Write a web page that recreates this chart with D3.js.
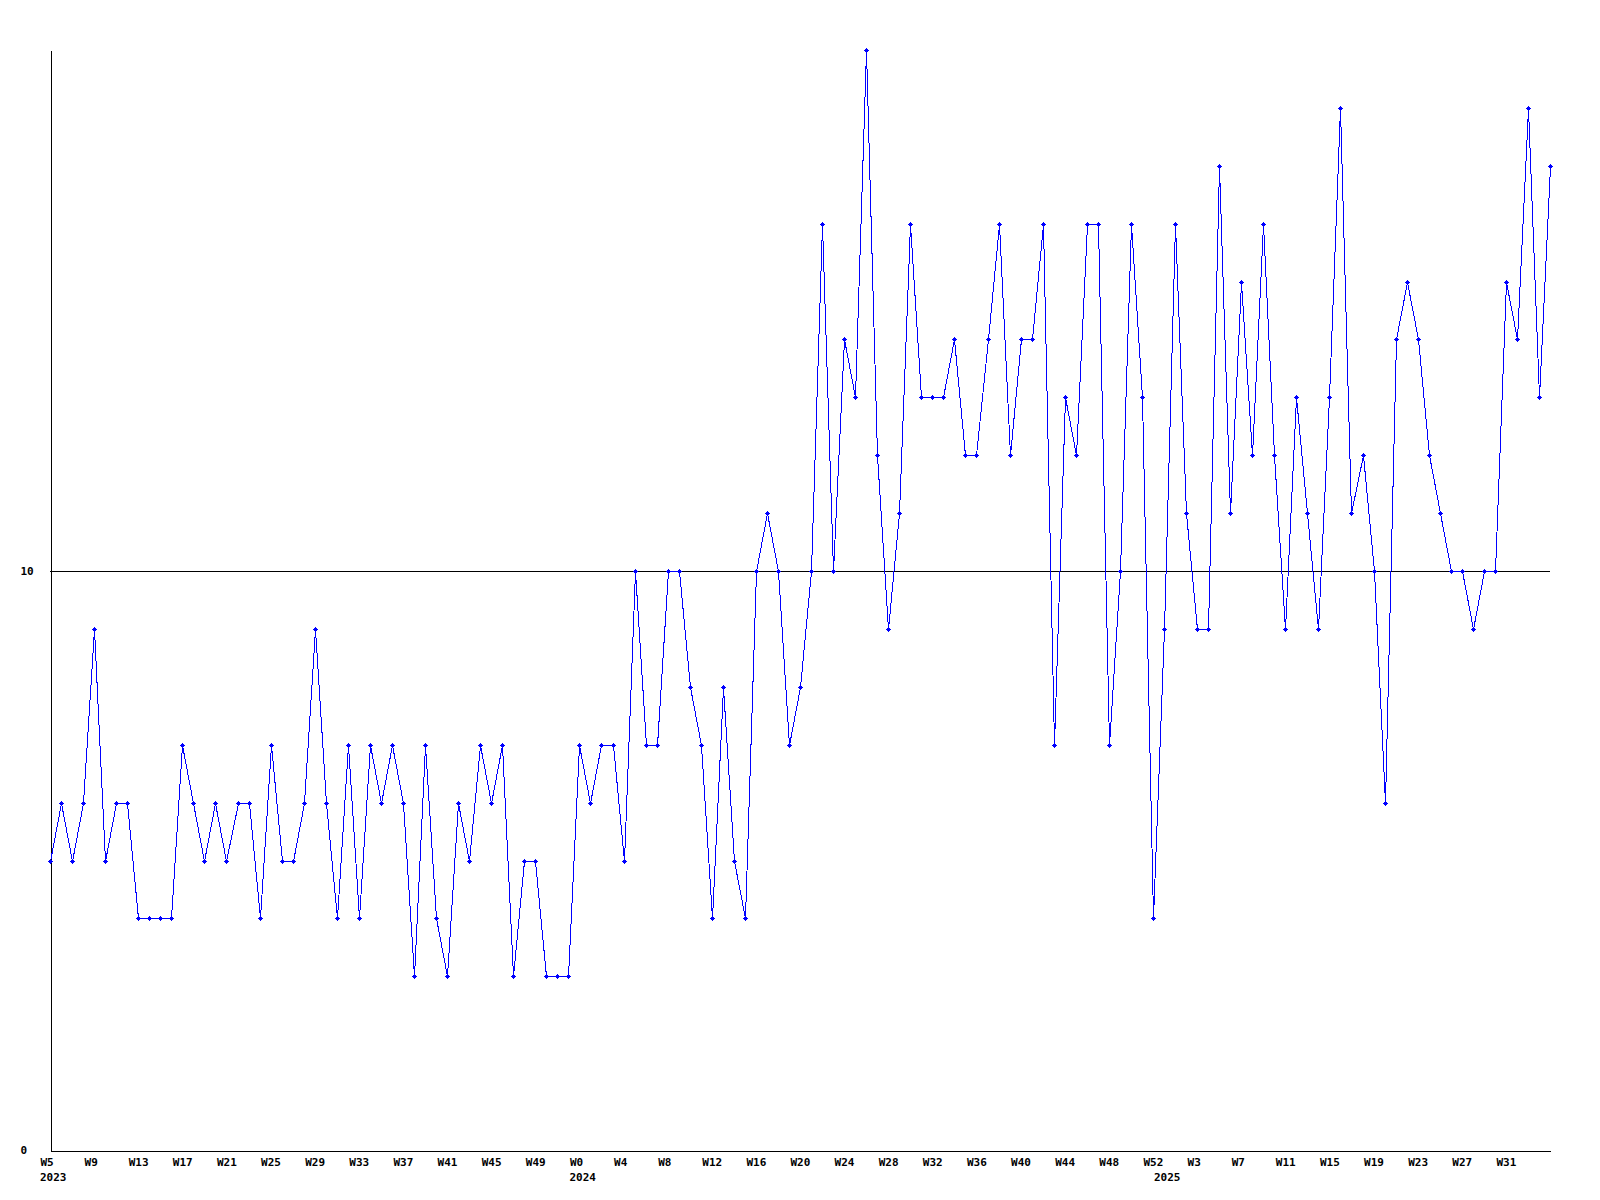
<!DOCTYPE html>
<html>
<head>
<meta charset="utf-8">
<script src="https://cdn.jsdelivr.net/npm/d3@7"></script>
<style>
  html, body { margin: 0; padding: 0; background: #fff; }
  svg { display: block; }
  text { font-family: "DejaVu Sans Mono", "Liberation Mono", monospace; font-weight: bold; font-size: 11px; fill: #000; }
</style>
</head>
<body>
<svg id="chart" width="1600" height="1200"></svg>
<script>
// Weekly values, one per week from W5 2023 to W35 2025
const values = [
  5,6,5,6,9,5,6,6,4,4,
  4,4,7,6,5,6,5,6,6,4,
  7,5,5,6,9,6,4,7,4,7,
  6,7,6,3,7,4,3,6,5,7,
  6,7,3,5,5,3,3,3,7,6,
  7,7,5,10,7,7,10,10,8,7,
  4,8,5,4,10,11,10,7,8,10,
  16,10,14,13,19,12,9,11,16,13,
  13,13,14,12,12,14,16,12,14,14,
  16,7,13,12,16,16,7,10,16,13,
  4,9,16,11,9,9,17,11,15,12,
  16,12,9,13,11,9,13,18,11,12,
  10,6,14,15,14,12,11,10,10,9,
  10,10,15,14,18,13,17
];

// X tick labels (every 4th week, starting with the first point)
const tickLabels = [
  "W5","W9","W13","W17","W21","W25","W29","W33","W37","W41","W45","W49",
  "W0","W4","W8","W12","W16","W20","W24","W28","W32","W36","W40","W44","W48","W52",
  "W3","W7","W11","W15","W19","W23","W27","W31"
];
const tickIndex = [
  0,4,8,12,16,20,24,28,32,36,40,44,
  48,52,56,60,64,68,72,76,80,84,88,92,96,100,
  104,108,112,116,120,124,128,132
];
// Year labels and the week index where each year starts
const years = ["2023","2024","2025"];
const yearIndex = [0,48,101];

const yTicks = [0,10];
const yMax = 19;

const svg = d3.select("#chart");
const mLeft = 50, mRight = 1550, mTop = 50, mBottom = 1150;

const x = d3.scaleLinear().domain([0, values.length - 1]).range([mLeft, mRight]);
const y = d3.scaleLinear().domain([0, yMax]).range([mBottom, mTop]);

// gridline at 10
svg.append("line")
  .attr("x1", mLeft).attr("x2", mRight)
  .attr("y1", Math.round(y(10)) + 0.5).attr("y2", Math.round(y(10)) + 0.5)
  .attr("stroke", "#000").attr("stroke-width", 1)
  .attr("shape-rendering", "crispEdges");

// x axis
const xAxis = svg.append("g")
  .attr("transform", `translate(0,${mBottom + 0.5})`)
  .call(d3.axisBottom(x)
    .tickValues(tickIndex)
    .tickFormat((d, i) => tickLabels[i])
    .tickSize(0).tickSizeOuter(0).tickPadding(8));
xAxis.select(".domain").attr("stroke", "#000").attr("shape-rendering", "crispEdges");
xAxis.selectAll("text")
  .attr("text-anchor", "start")
  .attr("x", -10)
  .attr("fill", "#000");
xAxis.attr("font-family", null).attr("font-size", null);

// year labels
svg.append("g").selectAll("text")
  .data(years)
  .join("text")
  .attr("x", (d, i) => x(yearIndex[i]) - 10)
  .attr("y", mBottom + 31)
  .text(d => d);

// y axis
const yAxis = svg.append("g")
  .attr("transform", `translate(${mLeft + 0.5},0)`)
  .call(d3.axisLeft(y).tickValues(yTicks).tickSize(0).tickSizeOuter(0).tickPadding(0));
yAxis.select(".domain").attr("stroke", "#000").attr("shape-rendering", "crispEdges");
yAxis.selectAll("text")
  .attr("text-anchor", "start")
  .attr("x", 20 - mLeft)
  .attr("fill", "#000");
yAxis.attr("font-family", null).attr("font-size", null);

// data line
const line = d3.line()
  .x((d, i) => Math.round(x(i)) + 0.5)
  .y(d => Math.round(y(d)) + 0.5);

svg.append("path")
  .datum(values)
  .attr("d", line)
  .attr("fill", "none")
  .attr("stroke", "#0000ff")
  .attr("stroke-width", 1)
  .attr("shape-rendering", "crispEdges");

// point markers (small plus with a solid centre)
const marker = "M-2,0h5v1h-5z M0,-2h1v5h-1z M-1,-1h3v3h-3z";
svg.append("g").selectAll("path")
  .data(values)
  .join("path")
  .attr("transform", (d, i) => `translate(${Math.round(x(i))},${Math.round(y(d))})`)
  .attr("d", marker)
  .attr("fill", "#0000ff")
  .attr("shape-rendering", "crispEdges");
</script>
</body>
</html>
